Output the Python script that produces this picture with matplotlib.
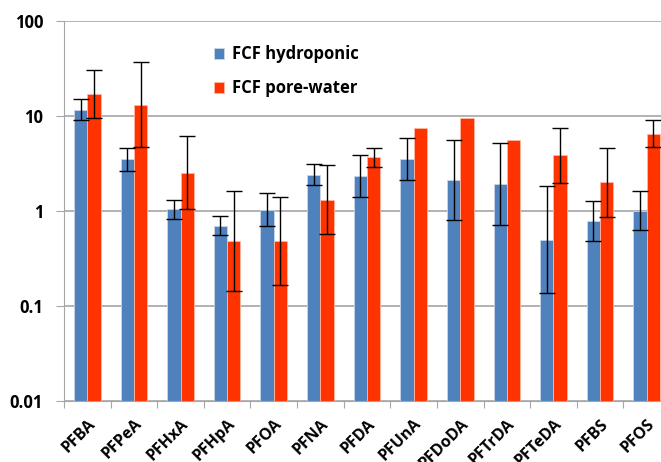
import numpy as np
from matplotlib import pyplot as plt
from matplotlib import transforms

# Dữ liệu
compounds = ["PFBA", "PFPeA", "PFHxA", "PFHpA", "PFOA", "PFNA", "PFDA",
             "PFUnA", "PFDoDA", "PFTrDA", "PFTeDA", "PFBS", "PFOS"]

hydro = [11.5, 3.48, 1.03, 0.69, 1.02, 2.38, 2.30, 3.50, 2.09, 1.90, 0.49, 0.78, 1.00]
hydro_hi = [14.9, 4.54, 1.31, 0.88, 1.54, 3.08, 3.83, 5.87, 5.5, 5.12, 1.81, 1.27, 1.62]
hydro_lo = [9.1, 2.62, 0.82, 0.55, 0.69, 1.85, 1.38, 2.09, 0.80, 0.71, 0.136, 0.48, 0.63]

pore = [16.9, 12.97, 2.51, 0.48, 0.48, 1.30, 3.65, 7.42, 9.39, 5.5, 3.83, 1.99, 6.42]
pore_hi = [30.1, 36.5, 6.07, 1.62, 1.40, 3.0, 4.6, np.nan, np.nan, np.nan, 7.48, 4.6, 8.94]
pore_lo = [9.4, 4.69, 1.05, 0.144, 0.164, 0.57, 2.9, np.nan, np.nan, np.nan, 1.97, 0.86, 4.72]

plt.rcParams['font.family'] = ['Open Sans', 'DejaVu Sans']
plt.rcParams['font.weight'] = 'bold'

fig = plt.figure(figsize=(6.61, 4.62), dpi=100)
# trục bị cắt ở mép phải như ảnh gốc
ax = fig.add_axes([64 / 661, 61.3 / 462, 606 / 661, 380 / 462])

x = np.arange(len(compounds))
w = 0.286

hydro = np.array(hydro)
pore = np.array(pore)
err_h = [hydro - np.array(hydro_lo), np.array(hydro_hi) - hydro]
err_p = [pore - np.array(pore_lo), np.array(pore_hi) - pore]

ax.bar(x - w / 2, hydro, width=w, color='#4F81BD', edgecolor='#C9D6EA',
       linewidth=0.6, label='FCF hydroponic', zorder=2)
ax.bar(x + w / 2, pore, width=w, color='#FF3300', edgecolor='#FFB6A0',
       linewidth=0.6, label='FCF pore-water', zorder=2)
ax.errorbar(x - w / 2, hydro, yerr=err_h, fmt='none', ecolor='black',
            elinewidth=1, capsize=5.5, capthick=1, zorder=3)
ax.errorbar(x + w / 2, pore, yerr=err_p, fmt='none', ecolor='black',
            elinewidth=1, capsize=5.5, capthick=1, zorder=3)

ax.set_yscale('log')
ax.set_ylim(0.01, 100)
ax.set_xlim(-0.5, len(compounds) - 0.5)
ax.set_yticks([0.01, 0.1, 1, 10, 100])
ax.set_yticklabels(['0.01', '0.1', '1', '10', '100'], fontsize=12, fontweight='bold')
ax.yaxis.set_minor_locator(plt.NullLocator())
ax.grid(axis='y', color='#A6A6A6', linewidth=1.2, zorder=0)

# vạch chia ở ranh giới giữa các nhóm
ax.set_xticks(np.arange(len(compounds) + 1) - 0.5)
ax.set_xticklabels([])
ax.set_xticks(x, minor=True)
ax.set_xticklabels(compounds, minor=True, rotation=45, ha='right',
                   rotation_mode='anchor', fontsize=11.5, fontweight='bold')
shift = transforms.ScaledTranslation(5 / 100, 0, fig.dpi_scale_trans)
for lab in ax.get_xticklabels(minor=True):
    lab.set_transform(lab.get_transform() + shift)
ax.tick_params(axis='x', which='minor', length=0, pad=11)
ax.tick_params(axis='x', which='major', length=5, color='#A6A6A6')
ax.tick_params(axis='y', length=6, color='#A6A6A6', pad=9)

for s in ['top', 'right']:
    ax.spines[s].set_visible(False)
ax.spines['left'].set_color('#A6A6A6')
ax.spines['bottom'].set_color('#A6A6A6')

ax.legend(loc='upper left', bbox_to_anchor=(0.222, 0.975), frameon=False,
          handlelength=0.65, handleheight=0.65, handletextpad=0.45,
          labelspacing=0.95, prop={'weight': 'bold', 'size': 12})

plt.savefig("out.png", dpi=100)
